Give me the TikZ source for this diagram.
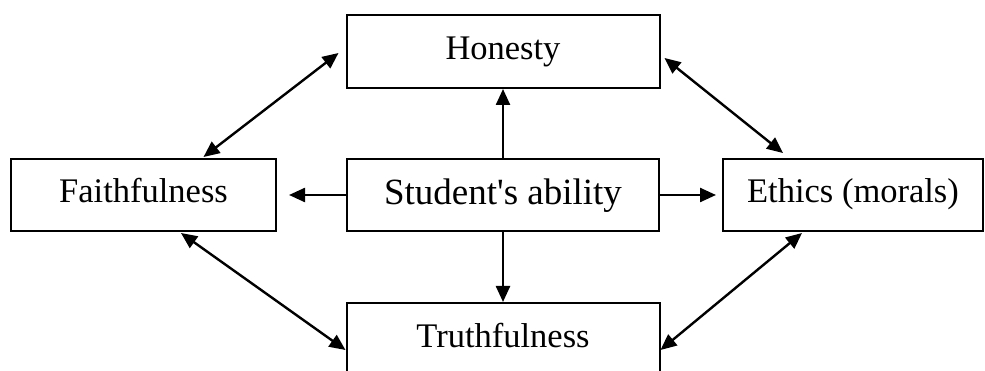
\documentclass[tikz,border=0pt]{standalone}
\usepackage{fontspec}
\setmainfont{Liberation Serif}[Ligatures=TeXOff]
\usetikzlibrary{arrows.meta}
\begin{document}
\begin{tikzpicture}[x=1pt,y=-1pt,
  box/.style={draw=black,line width=2pt,rectangle,inner sep=0pt,
    minimum height=72pt,text height=24pt,text depth=8pt,
    font=\fontsize{34.5}{40}\selectfont},
  bigbox/.style={box,text height=26pt,text depth=6pt,
    font=\fontsize{37}{42}\selectfont},
  conn/.style={line width=2.4pt,-{Triangle[length=16pt,width=14pt]}},
  dbl/.style={line width=2.4pt,{Triangle[length=16pt,width=14pt]}-{Triangle[length=16pt,width=14pt]}}]
\clip (0,0) rectangle (985,371);
\fill[white] (0,0) rectangle (985,371);
\node[box,minimum width=313pt,minimum height=73pt] (hon) at (503,51.5) {Honesty};
\node[box,minimum width=265pt] (faith) at (143.5,195) {Faithfulness};
\node[bigbox,minimum width=312pt] (stu) at (503,195) {Student's ability};
\node[box,minimum width=260pt] (eth) at (853,195) {Ethics (morals)};
\node[box,minimum width=313pt] (truth) at (503,339) {Truthfulness};
\draw[conn] (stu.north) -- (hon.south);
\draw[conn] (stu.south) -- (truth.north);
\draw[conn] (stu.west) -- ([xshift=12pt]faith.east);
\draw[conn] (stu.east) -- ([xshift=-6pt]eth.west);
\draw[dbl] ([xshift=60pt,yshift=1pt]faith.north) -- ([xshift=-7pt,yshift=-1.5pt]hon.west);
\draw[dbl] ([xshift=4pt,yshift=-6.5pt]hon.east) -- ([xshift=-70pt,yshift=5pt]eth.north);
\draw[dbl] ([xshift=37.5pt,yshift=-1pt]faith.south) -- ([yshift=-11pt]truth.west);
\draw[dbl] ([xshift=-51pt,yshift=-1pt]eth.south) -- ([yshift=-11pt]truth.east);
\end{tikzpicture}
\end{document}
